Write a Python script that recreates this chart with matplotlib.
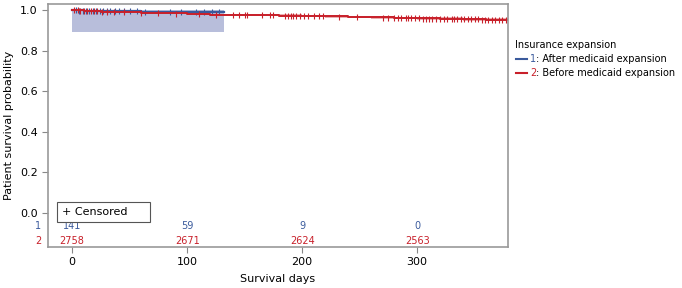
import matplotlib.pyplot as plt
from matplotlib.patches import Rectangle
import numpy as np

plt.rcParams['font.family'] = ['DejaVu Sans']

# Kaplan-Meier step data
blue_t = [0, 4, 10, 20, 35, 60, 90, 132]
blue_s = [1.0, 0.998, 0.996, 0.995, 0.994, 0.993, 0.993, 0.993]
blue_lo = [0.89, 0.89, 0.89, 0.89, 0.89, 0.89, 0.89, 0.89]
blue_hi = [1.0, 1.0, 1.0, 1.0, 1.0, 1.0, 1.0, 1.0]
blue_cens = [3, 6, 9, 12, 15, 18, 21, 24, 27, 30, 33, 37, 41, 45, 50, 56, 63, 85, 95, 108, 115, 122, 128]

red_t = [0, 10, 25, 40, 60, 80, 100, 120, 140, 160, 180, 200, 220, 240, 260, 280, 300, 320, 340, 360, 379]
red_s = [1.0, 0.997, 0.993, 0.990, 0.987, 0.984, 0.981, 0.978, 0.976, 0.975, 0.973, 0.971, 0.969,
         0.966, 0.964, 0.961, 0.959, 0.957, 0.955, 0.953, 0.951]
red_ci = [0.0, 0.002, 0.003, 0.004, 0.004, 0.005, 0.005, 0.005, 0.006, 0.006, 0.006, 0.006, 0.006,
          0.007, 0.007, 0.007, 0.007, 0.007, 0.008, 0.008, 0.008]
red_cens = [2, 5, 7, 10, 13, 16, 19, 22, 26, 30, 36, 45, 60, 75, 90, 110, 125, 140, 145, 150, 152,
            165, 172, 175, 185, 188, 190, 192, 195, 198, 202, 205, 210, 215, 218, 232, 248, 270, 275,
            280, 283, 286, 290, 292, 295, 298, 302, 305, 308, 310, 313, 316, 320, 323, 326, 330, 332,
            335, 338, 341, 344, 347, 350, 353, 356, 359, 362, 365, 368, 371, 374, 377]

risk_days = [0, 100, 200, 300]
risk_1 = [141, 59, 9, 0]
risk_2 = [2758, 2671, 2624, 2563]

blue = '#3a5a9c'
red = '#c8202a'
gray = '#888888'

fig = plt.figure(figsize=(6.82, 2.88), dpi=100)
ax = fig.add_axes([48 / 682, 41 / 288, 460 / 682, 243 / 288])

ax.fill_between(blue_t, blue_lo, blue_hi, step='post', color='#b8bedb', lw=0)
ax.step(blue_t, blue_s, where='post', color=blue, lw=1.6)
ax.plot(blue_cens, np.interp(blue_cens, blue_t, blue_s), '|', color=blue, ms=4, mew=0.8)

rs = np.array(red_s)
rc = np.array(red_ci)
ax.fill_between(red_t, rs - rc, rs + rc, step='post', color='#e79a9c', lw=0, alpha=0.8)
ax.step(red_t, red_s, where='post', color=red, lw=1.4)
ax.plot(red_cens, np.interp(red_cens, red_t, red_s), '|', color=red, ms=4, mew=0.8)

ax.set_xlim(-21, 379)
ax.set_ylim(-0.167, 1.03)
ax.set_xticks(risk_days)
ax.set_yticks([0.0, 0.2, 0.4, 0.6, 0.8, 1.0])
ax.set_yticklabels(['0.0', '0.2', '0.4', '0.6', '0.8', '1.0'])
ax.tick_params(labelsize=8, color=gray, length=4, width=0.8)
ax.tick_params(axis='x', pad=3)
for s in ax.spines.values():
    s.set_color('#999999')
    s.set_linewidth(1.2)
ax.set_xlabel('Survival days', fontsize=8, labelpad=5)
ax.set_ylabel('Patient survival probability', fontsize=8, labelpad=4)

# numbers at risk inside the axes
trans = ax.get_xaxis_transform()
for d, n1, n2 in zip(risk_days, risk_1, risk_2):
    ax.text(d, 0.085, str(n1), color=blue, fontsize=7, ha='center', va='center', transform=trans)
    ax.text(d, 0.025, str(n2), color=red, fontsize=7, ha='center', va='center', transform=trans)
ax.text(-0.015, 0.085, '1', color=blue, fontsize=7, ha='right', va='center', transform=ax.transAxes)
ax.text(-0.015, 0.025, '2', color=red, fontsize=7, ha='right', va='center', transform=ax.transAxes)

# censored box
ax.add_patch(Rectangle((-13, -0.044), 81, 0.098, fc='white', ec='#555555', lw=0.8, zorder=3))
ax.text(-9, 0.005, '+ Censored', fontsize=8, va='center', ha='left', zorder=4)

# legend
fig.text(515 / 682, 1 - 45 / 288, 'Insurance expansion', fontsize=7, va='center')
for i, (num, lab, col) in enumerate([('1', ': After medicaid expansion', blue),
                                     ('2', ': Before medicaid expansion', red)]):
    y = 1 - (59 + 14 * i) / 288
    fig.add_artist(plt.Line2D([516 / 682, 527 / 682], [y, y], color=col, lw=1.5))
    fig.text(530 / 682, y, num, color=col, fontsize=7, va='center')
    fig.text(536 / 682, y, lab, color='black', fontsize=7, va='center')

fig.savefig('out.png', dpi=100)
